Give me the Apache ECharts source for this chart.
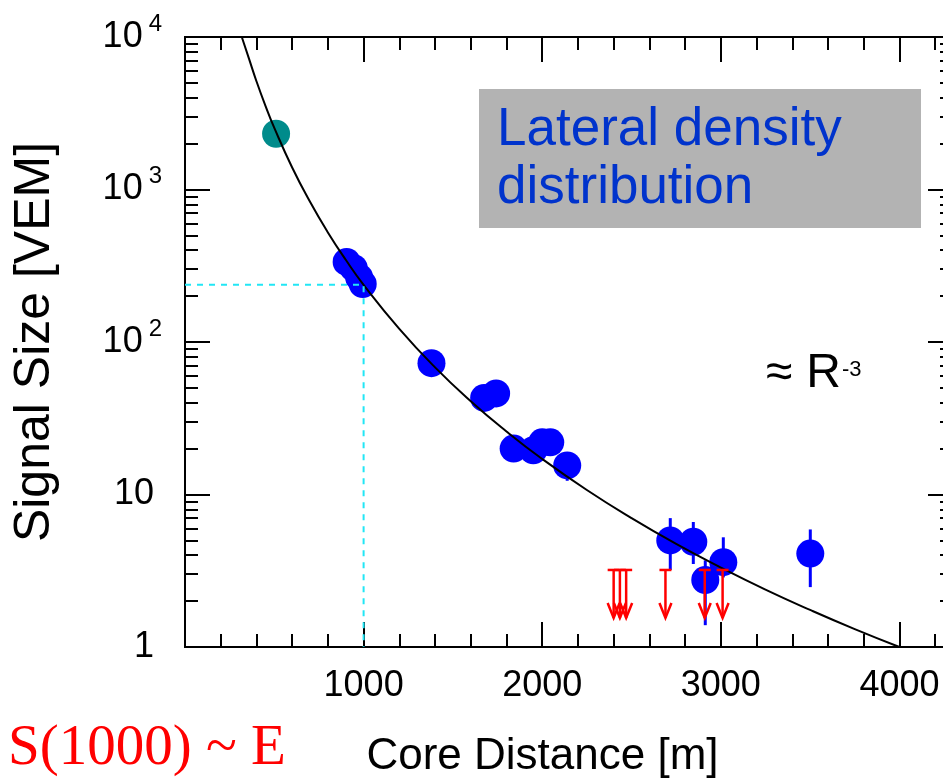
<!DOCTYPE html>
<html>
<head>
<meta charset="utf-8">
<script src="https://cdn.jsdelivr.net/npm/echarts@6/dist/echarts.min.js"></script>
<style>
html, body { margin: 0; padding: 0; background: #fff; }
#chart { width: 943px; height: 783px; }
</style>
</head>
<body>
<div id="chart"></div>
<script>
// lateral distribution fit (samples)
const fitR = [318, 360, 400, 450, 500, 600, 700, 800, 900, 1000, 1200, 1400, 1600, 1800, 2000, 2250, 2500, 2750, 3000, 3250, 3500, 3750, 4000];
const fitS = [10000, 7100, 5130, 3550, 2535, 1395, 830, 523, 346, 237, 122, 68.2, 40.9, 25.9, 17.1, 10.7, 7.0, 4.74, 3.32, 2.38, 1.75, 1.31, 1.0];

// triggered stations (blue), error bars where they stick out of the marker
const hitR = [905, 945, 975, 995, 1380, 1675, 1742, 1840, 1950, 2000, 2045, 2140, 2717, 2846, 2913, 3014, 3501];
const hitS = [335, 305, 265, 240, 72.6, 43, 46, 20, 19.5, 22, 22, 15.5, 5.0, 4.9, 2.75, 3.6, 4.1];
const hitLo = [null, null, null, null, null, null, null, null, null, null, null, 12.3, 3.2, 3.5, 1.39, 2.86, 2.47];
const hitHi = [null, null, null, null, null, null, null, null, null, null, null, 15.5, 7.0, 6.6, 3.7, 5.24, 5.9];

// saturated station (teal)
const satR = [510];
const satS = [2320];

// silent stations: upper limits (red arrows)
const limR = [2400, 2435, 2470, 2690, 2910, 3010];
const limS = [3.2, 3.2, 3.2, 3.2, 3.2, 3.2];
const limTip = [1.55, 1.55, 1.55, 1.55, 1.55, 1.55];

// S(1000) guide
const refR = [0, 1000, 1000];
const refS = [237, 237, 1];

// axes
const xMajor = [0, 1000, 2000, 3000, 4000];
const xLabelVals = [1000, 2000, 3000, 4000];
const xMinor = [200, 400, 600, 800, 1200, 1400, 1600, 1800, 2200, 2400, 2600, 2800, 3200, 3400, 3600, 3800, 4200];
const yMajor = [1, 10, 100, 1000, 10000];
const yLabelText = ['{a|1}', '{a|10}', '10{s|2}', '10{s|3}', '10{s|4}'];
const yMinor = [2, 3, 4, 5, 6, 7, 8, 9, 20, 30, 40, 50, 60, 70, 80, 90, 200, 300, 400, 500, 600, 700, 800, 900,
                2000, 3000, 4000, 5000, 6000, 7000, 8000, 9000];

const FONT = 'Liberation Sans';
const chart = echarts.init(document.getElementById('chart'));

function xAxisDef(pos, ticks, len, withLabels) {
    return {
        type: 'value', position: pos, min: 0, max: 4300,
        axisLine: { show: true, onZero: false, lineStyle: { color: '#000', width: 2 } },
        axisTick: { show: true, inside: true, length: len, customValues: ticks, lineStyle: { color: '#000', width: 2 } },
        axisLabel: withLabels ? {
            customValues: xLabelVals, margin: 21,
            fontFamily: FONT, fontSize: 36, color: '#000',
            formatter: function (v) { return String(v); }
        } : { show: false },
        splitLine: { show: false }
    };
}

function yAxisDef(pos, ticks, len, withLabels) {
    return {
        type: 'log', logBase: 10, position: pos, min: 1, max: 10000,
        axisLine: { show: true, onZero: false, lineStyle: { color: '#000', width: 2 } },
        axisTick: { show: true, inside: true, length: len, customValues: ticks, lineStyle: { color: '#000', width: 2 } },
        axisLabel: withLabels ? {
            customValues: yMajor, margin: 23,
            fontFamily: FONT, fontSize: 36, lineHeight: 56, color: '#000',
            formatter: function (v) {
                const i = yMajor.indexOf(Math.round(v));
                return i >= 0 ? yLabelText[i] : '';
            },
            rich: {
                a: { fontFamily: FONT, fontSize: 36, lineHeight: 56, color: '#000', padding: [0, 8, 0, 0] },
                s: { fontFamily: FONT, fontSize: 24, lineHeight: 24, color: '#000', padding: [0, 0, 26, 6] }
            }
        } : { show: false },
        splitLine: { show: false }
    };
}

const xMain = xAxisDef('bottom', xMajor, 25, true);
xMain.name = 'Core Distance [m]';
xMain.nameLocation = 'middle';
xMain.nameGap = 88;
xMain.nameTextStyle = { fontFamily: FONT, fontSize: 44, color: '#000', padding: [0, 53, 0, 0] };

const yMain = yAxisDef('left', yMajor, 25, true);
yMain.name = 'Signal Size [VEM]';
yMain.nameLocation = 'middle';
yMain.nameGap = 125;
yMain.nameTextStyle = { fontFamily: FONT, fontSize: 50, color: '#000' };

const errData = [];
hitR.forEach(function (r, i) {
    if (hitLo[i] !== null) errData.push([r, hitLo[i], hitHi[i]]);
});
const limData = limR.map(function (r, i) { return [r, limS[i], limTip[i]]; });

chart.setOption({
    animation: false,
    backgroundColor: '#fff',
    grid: { left: 185, top: 37, width: 768, height: 610, containLabel: false, outerBoundsMode: 'none' },
    xAxis: [
        xMain,
        xAxisDef('bottom', xMinor, 13, false),
        xAxisDef('top', xMajor, 25, false),
        xAxisDef('top', xMinor, 13, false)
    ],
    yAxis: [
        yMain,
        yAxisDef('left', yMinor, 13, false),
        yAxisDef('right', yMajor, 25, false),
        yAxisDef('right', yMinor, 13, false)
    ],
    series: [
        {
            name: 'stations', type: 'scatter', symbol: 'circle', symbolSize: 28, z: 2,
            itemStyle: { color: '#0000ff', opacity: 1 },
            data: hitR.map(function (r, i) { return [r, hitS[i]]; })
        },
        {
            name: 'saturated', type: 'scatter', symbol: 'circle', symbolSize: 28, z: 2,
            itemStyle: { color: '#008b8b', opacity: 1 },
            data: satR.map(function (r, i) { return [r, satS[i]]; })
        },
        {
            name: 'errors', type: 'custom', z: 3,
            encode: { x: 0, y: [1, 2] },
            data: errData,
            renderItem: function (params, api) {
                const a = api.coord([api.value(0), api.value(1)]);
                const b = api.coord([api.value(0), api.value(2)]);
                return {
                    type: 'line',
                    shape: { x1: a[0], y1: a[1], x2: b[0], y2: b[1] },
                    style: { stroke: '#0000ff', lineWidth: 3 }
                };
            }
        },
        {
            name: 'fit', type: 'line', smooth: true, showSymbol: false, z: 4,
            lineStyle: { color: '#000', width: 2 },
            data: fitR.map(function (r, i) { return [r, fitS[i]]; })
        },
        {
            name: 'S1000', type: 'line', showSymbol: false, z: 5,
            lineStyle: { color: '#22e6f5', width: 2, type: [6, 6] },
            data: refR.map(function (r, i) { return [r, refS[i]]; })
        },
        {
            name: 'limits', type: 'custom', z: 6,
            encode: { x: 0, y: [1, 2] },
            data: limData,
            renderItem: function (params, api) {
                const top = api.coord([api.value(0), api.value(1)]);
                const tip = api.coord([api.value(0), api.value(2)]);
                const st = { stroke: '#ff0000', lineWidth: 2.5, fill: null };
                return {
                    type: 'group',
                    children: [
                        { type: 'line', shape: { x1: top[0] - 6, y1: top[1], x2: top[0] + 6, y2: top[1] }, style: st },
                        { type: 'line', shape: { x1: top[0], y1: top[1], x2: tip[0], y2: tip[1] }, style: st },
                        { type: 'polyline', shape: { points: [[tip[0] - 6, tip[1] - 15], [tip[0], tip[1]], [tip[0] + 6, tip[1] - 15]] }, style: st }
                    ]
                };
            }
        }
    ],
    graphic: [
        {
            type: 'rect', left: 479, top: 89, z: 10,
            shape: { width: 442, height: 139 },
            style: { fill: '#b3b3b3' }
        },
        {
            type: 'text', x: 497, y: 101, z: 11,
            style: {
                text: 'Lateral density\ndistribution',
                font: '53px "Liberation Sans"', fill: '#0033cc',
                lineHeight: 58, align: 'left', verticalAlign: 'top',
                textAlign: 'left', textVerticalAlign: 'top'
            }
        },
        {
            type: 'text', x: 766, y: 374, z: 11,
            style: {
                text: '{e|≈}{r|R}{s|-3}',
                font: '48px "Liberation Sans"', fill: '#000',
                align: 'left', verticalAlign: 'middle',
                textAlign: 'left', textVerticalAlign: 'middle',
                rich: {
                    e: { fontFamily: FONT, fontSize: 48, lineHeight: 48, fill: '#000' },
                    r: { fontFamily: FONT, fontSize: 48, lineHeight: 48, fill: '#000', padding: [0, 0, 0, 14] },
                    s: { fontFamily: FONT, fontSize: 22, lineHeight: 22, fill: '#000', padding: [0, 0, 8, 1] }
                }
            }
        },
        {
            type: 'text', x: 8, y: 749, z: 11,
            style: {
                text: 'S(1000) ~ E',
                font: '57px "Liberation Serif"', fill: '#ff0000',
                align: 'left', verticalAlign: 'middle',
                textAlign: 'left', textVerticalAlign: 'middle'
            }
        }
    ]
});
</script>
</body>
</html>
